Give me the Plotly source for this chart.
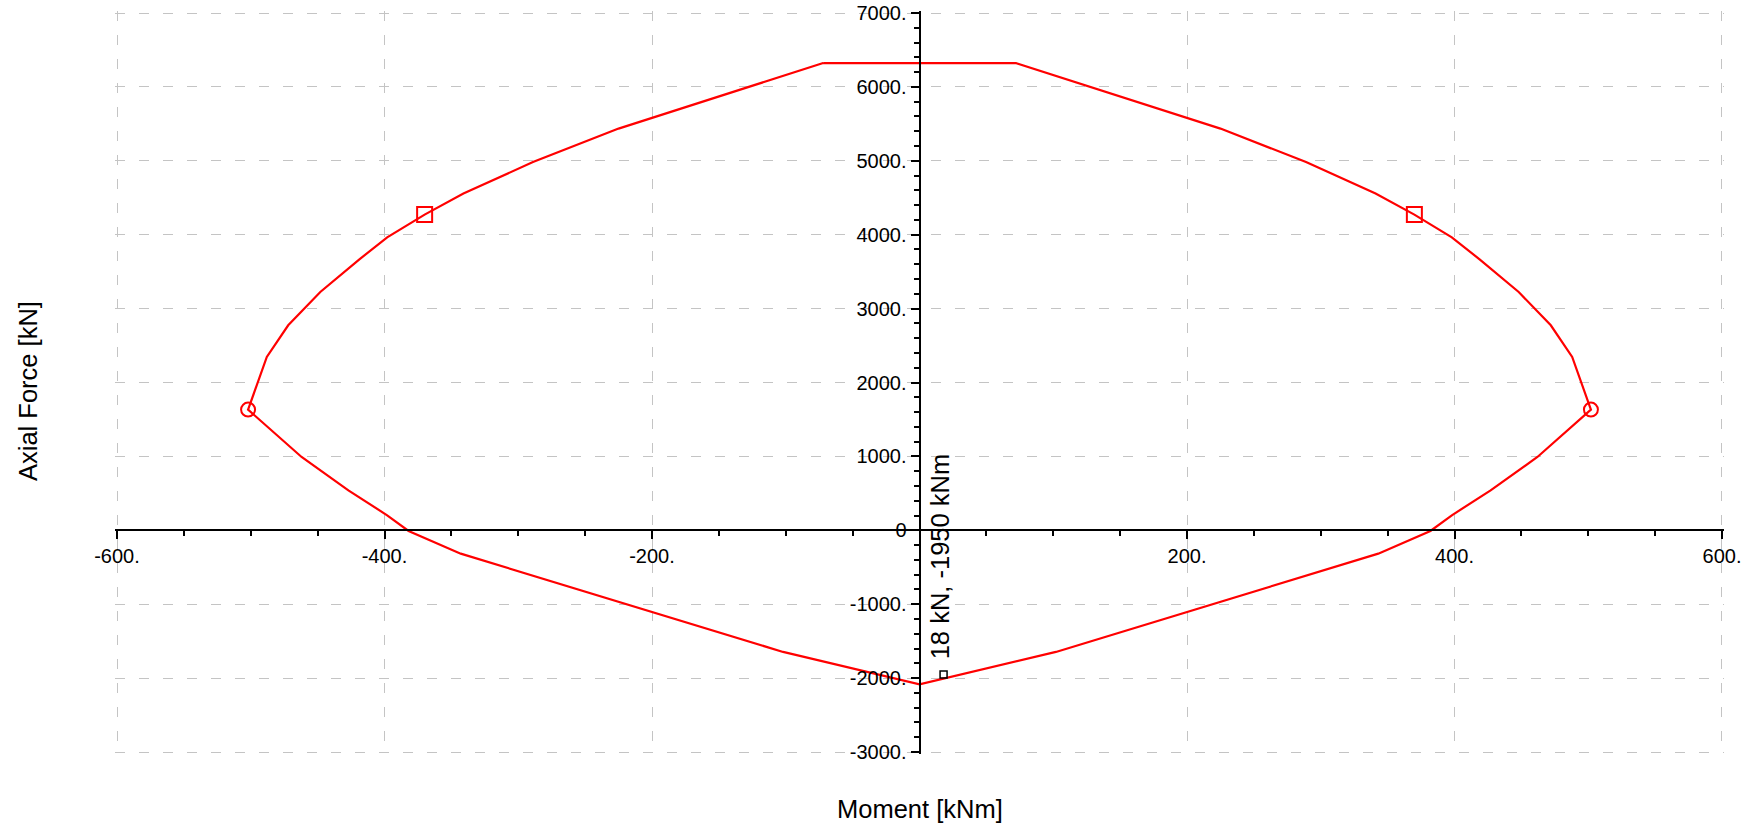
import plotly.graph_objects as go

# Interaction diagram (moment vs axial force), closed outline
moment = [-72, 72, 225, 289, 341, 370, 398, 419, 448, 472, 488, 502,
          462, 427, 398, 382, 343, 102, 0,
          -102, -343, -382, -398, -427, -462, -502, -488, -472, -448,
          -419, -398, -370, -341, -289, -225, -72]
axial = [6323, 6323, 5436, 4984, 4556, 4272, 3965, 3663, 3225, 2774, 2345, 1633,
         992, 541, 203, -9, -316, -1646, -2084,
         -1646, -316, -9, 203, 541, 992, 1633, 2345, 2774, 3225,
         3663, 3965, 4272, 4556, 4984, 5436, 6323]

# Marked points
square_m = [-370, 370]
square_n = [4272, 4272]
circle_m = [-502, 502]
circle_n = [1633, 1633]
load_m = [18]
load_n = [-1950]
load_label = "18 kN, -1950 kNm"

# Tick labels
x_ticks = [-600, -400, -200, 200, 400, 600]
x_text = ["-600.", "-400.", "-200.", "200.", "400.", "600."]
y_ticks = [-3000, -2000, -1000, 0, 1000, 2000, 3000, 4000, 5000, 6000, 7000]
y_text = ["-3000.", "-2000.", "-1000.", "0", "1000.", "2000.", "3000.",
          "4000.", "5000.", "6000.", "7000."]

# a small pad keeps the grid lines on the outermost ticks visible
x_range = [-601.5, 601.5]
y_range = [-3027, 7027]

FONT = "Liberation Sans, Arial, sans-serif"
RED = "#ff0000"

fig = go.Figure()
fig.add_trace(go.Scatter(x=moment, y=axial, mode="lines",
                         line=dict(color=RED, width=2.2), hoverinfo="x+y"))
fig.add_trace(go.Scatter(x=square_m, y=square_n, mode="markers",
                         marker=dict(symbol="square-open", size=15, color=RED,
                                     line=dict(color=RED, width=2))))
fig.add_trace(go.Scatter(x=circle_m, y=circle_n, mode="markers",
                         marker=dict(symbol="circle-open", size=14, color=RED,
                                     line=dict(color=RED, width=2))))
fig.add_trace(go.Scatter(x=load_m, y=load_n, mode="markers",
                         marker=dict(symbol="square-open", size=7, color="black",
                                     line=dict(color="black", width=1.5))))

# x position of the y axis and y position of the x axis (both at zero)
y_axis_pos = (0 - x_range[0]) / (x_range[1] - x_range[0])
x_axis_pos = (0 - y_range[0]) / (y_range[1] - y_range[0])

grid = dict(showgrid=True, gridcolor="#c4c4c4", gridwidth=1, griddash="10px,14px")
tick_font = dict(family=FONT, size=20, color="black")

fig.update_xaxes(range=x_range, anchor="free", position=x_axis_pos, automargin=False,
                 tickmode="array", tickvals=x_ticks, ticktext=x_text,
                 ticks="outside", ticklen=8, tickwidth=2, tickcolor="black",
                 showline=True, linecolor="black", linewidth=2,
                 zeroline=False, tickfont=tick_font,
                 minor=dict(tickmode="linear", tick0=0, dtick=50, ticks="outside",
                            ticklen=5, tickwidth=2, tickcolor="black", showgrid=False),
                 **grid)
fig.update_yaxes(range=y_range, anchor="free", position=y_axis_pos, automargin=False,
                 tickmode="array", tickvals=y_ticks, ticktext=y_text,
                 ticks="outside", ticklen=8, tickwidth=2, tickcolor="black",
                 showline=True, linecolor="black", linewidth=2,
                 zeroline=False, tickfont=tick_font,
                 minor=dict(tickmode="linear", tick0=0, dtick=200, ticks="outside",
                            ticklen=5, tickwidth=2, tickcolor="black", showgrid=False),
                 **grid)

fig.add_annotation(x=load_m[0] - 3, y=-358, xref="x", yref="y", text=load_label,
                   textangle=-90, showarrow=False, xanchor="center", yanchor="middle",
                   font=dict(family=FONT, size=25.5, color="black"))
# axis titles placed in paper space below / left of the plot area
fig.add_annotation(x=0.5, y=0, xref="paper", yref="paper", yshift=-55,
                   text="Moment [kNm]", showarrow=False, yanchor="middle",
                   font=dict(family=FONT, size=25.5, color="black"))
fig.add_annotation(x=0, y=(829 - 391 - 75) / 743, xref="paper", yref="paper",
                   xshift=-87, text="Axial Force [kN]", textangle=-90,
                   showarrow=False, xanchor="center", yanchor="middle",
                   font=dict(family=FONT, size=25.5, color="black"))

fig.update_layout(width=1756, height=829, showlegend=False,
                  margin=dict(l=115, r=32, t=11, b=75, autoexpand=False),
                  plot_bgcolor="white", paper_bgcolor="white",
                  font=dict(family=FONT, color="black"))

fig.write_html("out.html")
